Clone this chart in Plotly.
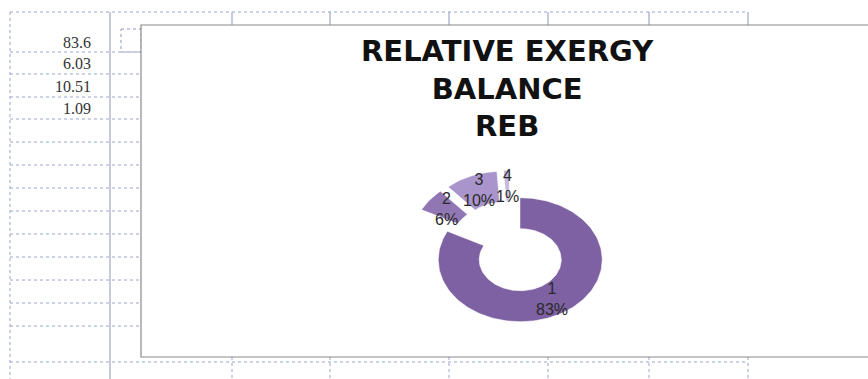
import math
import plotly.graph_objects as go

# Relative exergy balance (REB) shares
categories = ["1", "2", "3", "4"]
values = [83.6, 6.03, 10.51, 1.09]
slice_colors = ["#7d61a2", "#9077b4", "#a994cc", "#c6b8de"]
title_text = "RELATIVE EXERGY<br>BALANCE<br>REB"

W, H = 868, 379

# doughnut geometry in page pixels (x axis and y axis are mapped 1:1 to pixels)
CX, CY = 510, 247          # doughnut centre
RX, RY = 82, 62            # outer radii (the sheet view is stretched horizontally)
HOLE = 0.5                 # inner radius as a fraction of the outer radius
EXPLODE = 0.24             # slice explosion as a fraction of the radius

fig = go.Figure()

total = sum(values)
start = 0.0
for cat, val, col in zip(categories, values, slice_colors):
    frac = val / total
    a0 = start * 360.0
    a1 = (start + frac) * 360.0
    start += frac
    mid = math.radians((a0 + a1) / 2)
    ox = EXPLODE * RX * math.sin(mid)
    oy = -EXPLODE * RY * math.cos(mid)
    n = max(8, int((a1 - a0) / 2))
    outer = [math.radians(a0 + (a1 - a0) * k / n) for k in range(n + 1)]
    xs = [CX + ox + RX * math.sin(t) for t in outer]
    ys = [CY + oy - RY * math.cos(t) for t in outer]
    xs += [CX + ox + HOLE * RX * math.sin(t) for t in reversed(outer)]
    ys += [CY + oy - HOLE * RY * math.cos(t) for t in reversed(outer)]
    fig.add_trace(go.Scatter(
        x=xs, y=ys, mode="lines", fill="toself", fillcolor=col,
        line=dict(color="white", width=0.6), hoverinfo="skip", showlegend=False,
    ))
    # data label at the middle of the ring, on the slice bisector
    rm = (1 + HOLE) / 2
    fig.add_annotation(
        x=CX + ox + rm * RX * math.sin(mid),
        y=CY + oy - rm * RY * math.cos(mid),
        text=f"{cat}<br>{round(frac * 100)}%",
        showarrow=False, xanchor="center", yanchor="middle",
        font=dict(family="Liberation Sans, Arial", size=16, color="#2a2a2a"),
    )

shapes = []
grid = dict(color="#9aa5cc", width=1, dash="dot")

# spreadsheet column / row lines around the embedded chart
shapes.append(dict(type="line", x0=10, x1=748, y0=12, y1=12, line=grid, layer="below"))
shapes.append(dict(type="line", x0=10, x1=748, y0=362, y1=362, line=grid, layer="below"))
shapes.append(dict(type="line", x0=10, x1=10, y0=12, y1=379, line=grid, layer="below"))
shapes.append(dict(type="line", x0=110, x1=110, y0=12, y1=379,
                   line=dict(color="#8d98bd", width=1), layer="below"))
for yr in [52, 74, 97, 119, 142, 165, 188, 211, 234, 257, 280, 303, 326]:
    shapes.append(dict(type="line", x0=10, x1=141, y0=yr, y1=yr, line=grid, layer="below"))
for xc in [232, 330, 449, 548, 649, 748]:
    shapes.append(dict(type="line", x0=xc, x1=xc, y0=12, y1=25,
                       line=dict(color="#8d98bd", width=1), layer="below"))
    shapes.append(dict(type="line", x0=xc, x1=xc, y0=357, y1=379, line=grid, layer="below"))

# small dashed cell marker next to the chart
shapes.append(dict(type="rect", x0=121, x1=141, y0=29, y1=52,
                   line=dict(color="#8d98bd", width=1, dash="dot"), layer="below"))

# chart area frame
shapes.append(dict(type="rect", x0=141, x1=872, y0=25, y1=357,
                   line=dict(color="#8a8a8a", width=1.2), fillcolor="white", layer="below"))

fig.update_layout(shapes=shapes)

# cell values in the sheet column
cell_rows = [42, 63, 86, 108]
for val, yr in zip(values, cell_rows):
    fig.add_annotation(
        x=93, y=yr, text=f"{val:g}", showarrow=False, xanchor="right", yanchor="middle",
        font=dict(family="Liberation Serif, Times New Roman", size=16, color="#333333"),
    )

# chart title
fig.add_annotation(
    x=507, y=88, text=title_text, showarrow=False, xanchor="center", yanchor="middle",
    font=dict(family="DejaVu Sans", size=29, color="#111111", weight="bold"),
)

fig.update_layout(
    width=W, height=H, autosize=False,
    margin=dict(l=0, r=0, t=0, b=0),
    paper_bgcolor="white", plot_bgcolor="white",
    xaxis=dict(range=[0, W], visible=False, fixedrange=True),
    yaxis=dict(range=[H, 0], visible=False, fixedrange=True),
    showlegend=False,
)

fig.write_html("out.html", config={"displayModeBar": False})
